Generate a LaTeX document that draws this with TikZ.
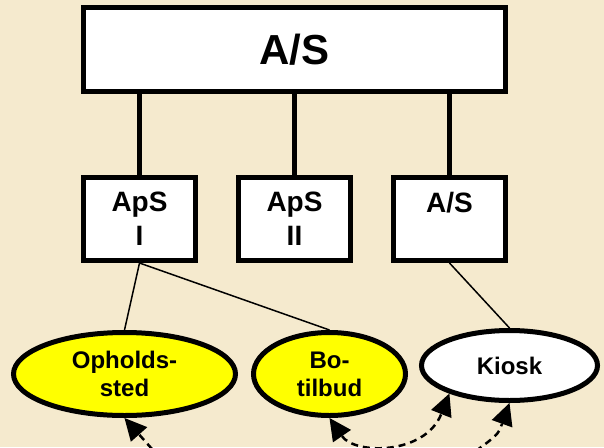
\documentclass[tikz,border=0pt]{standalone}
\usepackage{fontspec}
\setmainfont{Liberation Sans}
\usetikzlibrary{shapes.geometric,arrows.meta}
\definecolor{paper}{RGB}{245,234,206}
\definecolor{gul}{RGB}{255,255,0}
\tikzstyle{bigbox}=[draw, fill=white, line width=5pt, inner sep=0pt, font=\bfseries\fontsize{42}{50}\selectfont, minimum width=422pt, minimum height=84pt]
\tikzstyle{unitbox}=[draw, fill=white, line width=5pt, inner sep=0pt, align=center, font=\bfseries\fontsize{28}{34}\selectfont, minimum width=112pt, minimum height=83pt]
\tikzstyle{firm}=[ellipse, draw, fill=gul, line width=5pt, inner sep=0pt, align=center, font=\bfseries\fontsize{24}{28}\selectfont]
\tikzstyle{owner}=[line width=5pt]
\tikzstyle{link}=[line width=1.5pt]
\tikzset{fat/.tip={Triangle[length=22pt,width=22pt,line width=0pt]}}
\tikzstyle{dasharrow}=[line width=2.5pt, dash pattern=on 7pt off 5pt]

\begin{document}
\begin{tikzpicture}[x=1pt, y=-1pt]
        \useasboundingbox (0,0) rectangle (604,447);
        \fill[paper] (0,0) rectangle (604,447);
        \clip (0,0) rectangle (604,447);
        % moderselskab og datterselskaber
        \node(as) [bigbox] at (294.5,49.5){A/S};
        \node(aps1) [unitbox] at (139.5,219){ApS\\I};
        \node(aps2) [unitbox] at (294.5,219){ApS\\II};
        \node(as2) [unitbox] at (449.5,219){A/S\\\phantom{I}};
        \draw[owner] (aps1.north) -- (aps1.north |- as.south);
        \draw[owner] (aps2.north) -- (aps2.north |- as.south);
        \draw[owner] (as2.north) -- (as2.north |- as.south);
        % virksomheder
        \node(oph) [firm, minimum width=222pt, minimum height=83pt] at (124.5,374){Opholds-\\sted};
        \node(bo) [firm, minimum width=152pt, minimum height=83pt] at (329.5,374){Bo-\\tilbud};
        \node(kiosk) [firm, fill=white, minimum width=176pt, minimum height=70pt] at (509.5,365.5){Kiosk};
        \draw[link] (aps1.south) -- (oph.north);
        \draw[link] (aps1.south) -- (bo.north);
        \draw[link] (as2.south) -- (kiosk.north);
        % stiplede pile
        \coordinate(c1) at (160,458);
        \coordinate(c3) at (466,458);
        \draw[dasharrow, -fat] (c1) -- (oph.south);
        \draw[dasharrow, fat-fat] (bo.south) .. controls (355,455) and (425,455) .. (kiosk.-155);
        \draw[dasharrow, -fat] (c3) .. controls (498,435) .. (kiosk.south);
     \end{tikzpicture}
\end{document}
